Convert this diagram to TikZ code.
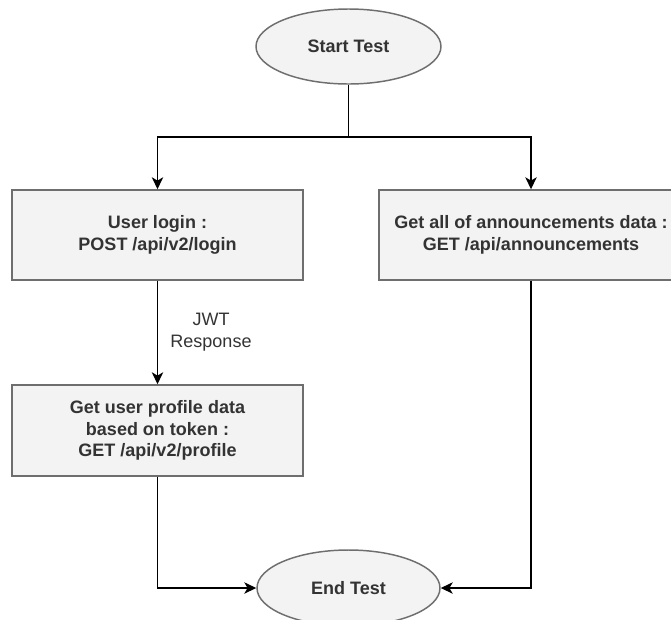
\documentclass[tikz,border=0pt]{standalone}
\usepackage{fontspec}
\setmainfont{Liberation Sans}
\usetikzlibrary{arrows.meta,shapes.geometric}
\definecolor{boxfill}{HTML}{F3F3F3}
\definecolor{boxline}{HTML}{6E6E6E}
\definecolor{txt}{HTML}{333333}
\begin{document}
\begin{tikzpicture}[x=0.75pt,y=-0.75pt,
  every node/.style={font=\fontsize{13.5pt}{16pt}\selectfont, text=txt},
  terminal/.style={ellipse, draw=boxline, fill=boxfill, line width=1.1pt,
    minimum width=138.75pt, minimum height=56.25pt, inner sep=0pt, font=\fontsize{13.5pt}{16pt}\selectfont\bfseries},
  stepbox/.style={rectangle, draw=boxline, fill=boxfill, line width=1.1pt,
    align=center, inner sep=0pt, font=\fontsize{13.5pt}{16pt}\selectfont\bfseries},
  flow/.style={line width=1.1pt, black, -{Stealth[length=9pt,width=8.5pt,inset=2.5pt]}},
  plain/.style={line width=1.1pt, black}]
  \clip (0,0) rectangle (671,619);
  \useasboundingbox (0,0) rectangle (671,619);

  % nodes
  \node[terminal] (start) at (348.5,46.5) {Start Test};
  \node[stepbox, minimum width=218.25pt, minimum height=67.5pt] (login) at (157.5,235)
    {User login :\\POST /api/v2/login};
  \node[stepbox, minimum width=228pt, minimum height=67.5pt] (ann) at (531,235)
    {Get all of announcements data :\\GET /api/announcements};
  \node[stepbox, minimum width=218.25pt, minimum height=68.25pt] (profile) at (157.5,430.5)
    {Get user profile data\\based on token :\\GET /api/v2/profile};
  \node[terminal, minimum width=137.25pt, minimum height=57pt] (end) at (348.5,588) {End Test};

  % fork below the start node
  \coordinate (fork) at (348.5,137);
  \draw[plain] (start.south) -- (fork);
  \draw[flow] (fork) -| (login.north);
  \draw[flow] (fork) -| (ann.north);

  % login to profile, labelled with the token response
  \draw[flow] (login.south) -- (profile.north);
  \node[align=center, font=\fontsize{13.5pt}{16pt}\selectfont] (jwt) at (211,332) {JWT\\Response};

  % both branches join at the end node
  \draw[flow] (profile.south) |- (end.west);
  \draw[flow] (ann.south) |- (end.east);
\end{tikzpicture}
\end{document}
